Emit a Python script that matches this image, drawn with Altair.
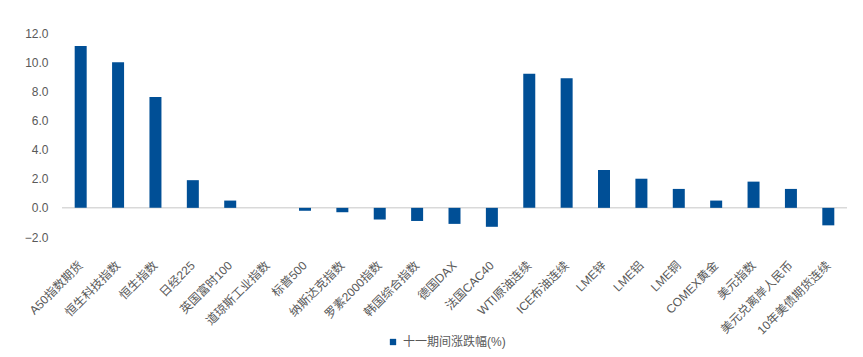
import altair as alt
import pandas as pd

categories = ["A50指数期货", "恒生科技指数", "恒生指数", "日经225", "英国富时100", "道琼斯工业指数",
              "标普500", "纳斯达克指数", "罗素2000指数", "韩国综合指数", "德国DAX", "法国CAC40",
              "WTI原油连续", "ICE布油连续", "LME锌", "LME铝", "LME铜", "COMEX黄金", "美元指数",
              "美元兑离岸人民币", "10年美债期货连续"]
values = [11.1, 10.0, 7.6, 1.9, 0.5, 0.0, -0.2, -0.3, -0.8, -0.9, -1.1, -1.3,
          9.2, 8.9, 2.6, 2.0, 1.3, 0.5, 1.8, 1.3, -1.2]
series_name = "十一期间涨跌幅(%)"
y_ticks = [-2, 0, 2, 4, 6, 8, 10, 12]

df = pd.DataFrame({"cat": categories, "val": values, "series": series_name})
zero_df = pd.DataFrame({"val": [0]})

FONT = "Liberation Sans, Noto Sans CJK SC, sans-serif"
GRAY = "#595959"

x = alt.X("cat:N", sort=categories, title=None,
          scale=alt.Scale(paddingInner=0, paddingOuter=0),
          axis=alt.Axis(labelAngle=-45, labelAlign="right", labelBaseline="middle",
                        labelPadding=26, ticks=False, domain=False, labelFontSize=12,
                        labelColor=GRAY, labelFont=FONT, labelOverlap=False, labelLimit=200))
y_axis = alt.Axis(values=y_ticks, format=".1f", grid=False, ticks=False, domain=False,
                  labelOverlap=False, labelFlush=False,
                  labelFontSize=12, labelColor=GRAY, labelFont=FONT, labelPadding=14)
y_scale = alt.Scale(domain=[-2, 12], nice=False, zero=False)
y = alt.Y("val:Q", title=None, scale=y_scale, axis=y_axis)

bars = alt.Chart(df).mark_bar(size=12).encode(
    x=x, y=y,
    color=alt.Color("series:N", scale=alt.Scale(range=["#004F96"]), title=None,
                    legend=alt.Legend(orient="none", legendX=325, legendY=303,
                                      symbolType="square", symbolSize=40, symbolStrokeWidth=0,
                                      labelFontSize=12, labelColor=GRAY, labelFont=FONT,
                                      padding=0, direction="horizontal"))
)

zero_rule = alt.Chart(zero_df).mark_rule(color="#d9d9d9", strokeWidth=1.5).encode(
    y=alt.Y("val:Q", title=None, scale=y_scale, axis=y_axis)
)

chart = alt.layer(zero_rule, bars).properties(
    width=785, height=204,
    autosize=alt.AutoSizeParams(type="none"),
    padding={"left": 62, "top": 33, "right": 16, "bottom": 120},
    background="white"
).configure_view(stroke=None)

chart.save("out.html", embed_options={"renderer": "svg", "actions": False})
